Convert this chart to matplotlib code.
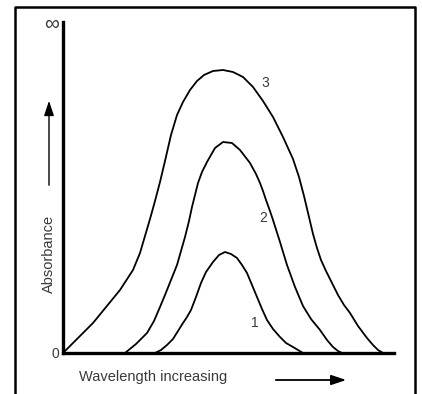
import matplotlib
matplotlib.use("Agg")
import matplotlib.pyplot as plt
from matplotlib.lines import Line2D

plt.rcParams["font.family"] = ["Liberation Sans", "DejaVu Sans"]

# absorbance curves, arbitrary units (wavelength, absorbance)
curve1_x = [92, 98, 104, 110, 115, 120, 124, 128, 133, 138, 143, 150, 156, 162,
            168, 174, 179, 184, 189, 194, 199, 204, 210, 217, 223, 230, 235, 240]
curve1_y = [0, 3, 8, 14, 22, 30, 36, 43, 56, 70, 81, 91, 98, 101,
            99, 95, 88, 80, 68, 56, 44, 33, 24, 16, 10, 6, 3, 0]

curve2_x = [62, 73, 84, 91, 97, 102, 106, 110, 114, 118, 122, 126, 129, 132,
            135, 139, 144, 152, 160, 169, 177, 187, 193, 197, 200, 203, 207,
            210, 217, 224, 232, 240, 248, 257, 264, 270, 275, 279]
curve2_y = [0, 9, 20, 32, 46, 58, 68, 78, 88, 102, 116, 132, 146, 158,
            170, 181, 191, 205, 211, 210, 203, 190, 179, 170, 162, 153, 142,
            133, 111, 88, 66, 47, 34, 23, 13, 6, 2, 0]

curve3_x = [0, 30, 57, 70, 77, 82, 87, 92, 97, 102, 108, 114, 120, 127, 134,
            141, 150, 160, 170, 180, 190, 200, 210, 220, 230, 236, 241, 246,
            250, 254, 258, 263, 267, 275, 281, 287, 295, 304, 310, 315, 320]
curve3_y = [0, 30, 63, 83, 100, 117, 134, 152, 171, 192, 218, 238, 251, 263, 272,
            278, 282, 283, 281, 276, 266, 252, 236, 216, 194, 176, 157, 136,
            119, 105, 93, 82, 74, 58, 48, 40, 27, 15, 8, 3, 0]

curve_labels = ["1", "2", "3"]
label_pos = [(192, 30), (200, 135), (202, 270)]

x_max = 331
y_max = 331

W, H = 422, 394
fig = plt.figure(figsize=(W / 100, H / 100), dpi=100)
ax = fig.add_axes([63 / W, 41 / H, x_max / W, y_max / H])

for xs, ys in [(curve1_x, curve1_y), (curve2_x, curve2_y), (curve3_x, curve3_y)]:
    ax.plot(xs, ys, color="black", linewidth=1.3,
            solid_capstyle="round", solid_joinstyle="round")

for text, (lx, ly) in zip(curve_labels, label_pos):
    ax.text(lx, ly, text, fontsize=10, color="#3a3a3a", ha="center", va="center")

ax.set_xlim(0, x_max)
ax.set_ylim(0, y_max)
ax.spines["top"].set_visible(False)
ax.spines["right"].set_visible(False)
ax.spines["left"].set_linewidth(2.4)
ax.spines["bottom"].set_linewidth(2.4)
ax.set_xticks([])
ax.set_yticks([0, y_max])
ax.set_yticklabels(["0", "∞"], color="#3a3a3a")
ticklabels = ax.get_yticklabels()
ticklabels[0].set_fontsize(10)
ticklabels[1].set_fontsize(15)
ax.tick_params(axis="y", length=0, pad=3)

# axis captions and arrows
fig.text(49 / W, 140 / H, "Absorbance", rotation=90, fontsize=10.5,
         color="#3a3a3a", ha="center", va="center")
fig.text(79 / W, 17 / H, "Wavelength increasing", fontsize=10.5,
         color="#3a3a3a", ha="left", va="center")
ax.annotate("", xy=(49, 296), xytext=(49, 206), xycoords="figure pixels",
            textcoords="figure pixels",
            arrowprops=dict(arrowstyle="-|>,head_length=0.9,head_width=0.3",
                            color="black", lw=1.0))
ax.annotate("", xy=(349, 14), xytext=(273, 14), xycoords="figure pixels",
            textcoords="figure pixels",
            arrowprops=dict(arrowstyle="-|>,head_length=0.9,head_width=0.3",
                            color="black", lw=1.3))

# outer frame (open at the bottom)
frame_x = [15 / W, 15 / W, 415 / W, 415 / W]
frame_y = [0, 387 / H, 387 / H, 0]
fig.add_artist(Line2D(frame_x, frame_y, transform=fig.transFigure,
                      color="black", linewidth=1.8))

fig.savefig("out.png", dpi=100)
